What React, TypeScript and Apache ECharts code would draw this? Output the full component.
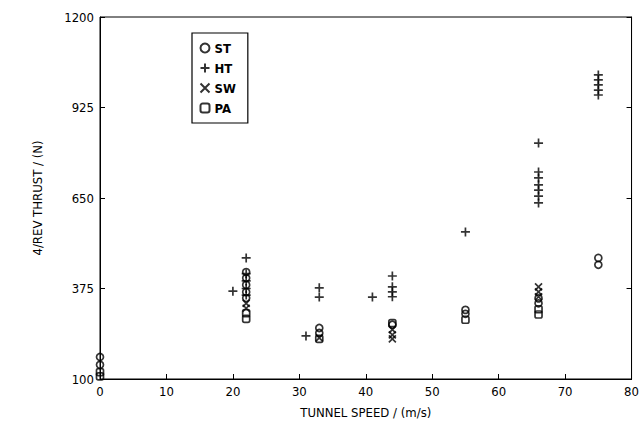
import React, { useEffect, useRef } from "react";
import * as echarts from "echarts";

const xTicks = [0, 10, 20, 30, 40, 50, 60, 70, 80];
const yTicks = [100, 375, 650, 925, 1200];

const stData: number[][] = [
  [0, 167], [0, 143], [22, 425], [22, 407], [22, 386], [22, 364], [22, 346],
  [33, 255], [33, 240], [44, 265], [55, 310], [55, 298], [66, 345], [66, 330],
  [75, 468], [75, 447],
];
const htData: number[][] = [
  [22, 468], [20, 367], [22, 420], [22, 398], [22, 375], [22, 355],
  [33, 377], [33, 349], [31, 231], [41, 349], [44, 413], [44, 380], [44, 365], [44, 350],
  [55, 547], [66, 817], [66, 729], [66, 711], [66, 690], [66, 674], [66, 656], [66, 635],
  [75, 1024], [75, 1009], [75, 994], [75, 978], [75, 963],
];
const swData: number[][] = [
  [22, 330], [22, 315], [33, 225], [44, 250], [44, 234], [44, 222],
  [66, 380], [66, 365], [66, 350],
];
const paData: number[][] = [
  [0, 121], [0, 108], [22, 300], [22, 283], [33, 222], [44, 270], [55, 280],
  [66, 312], [66, 296],
];

const FONT = "'DejaVu Sans Condensed', 'Liberation Sans Narrow', sans-serif";

export default function App() {
  const ref = useRef<HTMLDivElement>(null);
  useEffect(() => {
    if (!ref.current) return;
    const chart = echarts.init(ref.current, undefined, { renderer: "svg" });
    const plus = "path://M0,5L10,5M5,0L5,10";
    const cross = "path://M0,0L10,10M10,0L0,10";
    const mk = (name: string, data: number[][], symbol: string, size: number) => ({
      name,
      type: "scatter",
      data,
      symbol,
      symbolSize: size,
      itemStyle: { color: "none", borderColor: "#000", borderWidth: 1.7 },
    });
    chart.setOption({
      animation: false,
      backgroundColor: "#fff",
      grid: { left: 100, right: 10, top: 17, bottom: 52, show: true, borderColor: "#000", borderWidth: 1 },
      legend: {
        orient: "vertical",
        left: 192,
        top: 33,
        padding: [8, 12, 8, 6],
        itemGap: 6,
        itemWidth: 9,
        itemHeight: 9,
        borderColor: "#000",
        borderWidth: 1.2,
        textStyle: { fontFamily: FONT, fontSize: 13, fontWeight: "bold", color: "#000" },
        data: ["ST", "HT", "SW", "PA"],
      },
      xAxis: {
        type: "value",
        min: 0,
        max: 80,
        interval: 10,
        name: "TUNNEL SPEED / (m/s)",
        nameLocation: "middle",
        nameGap: 27,
        nameTextStyle: { fontFamily: FONT, fontSize: 13, color: "#000" },
        axisLine: { lineStyle: { color: "#000" } },
        axisTick: { inside: true, length: 5, lineStyle: { color: "#000" } },
        axisLabel: { fontFamily: FONT, fontSize: 13, color: "#000", margin: 6, customValues: xTicks },
        splitLine: { show: false },
      },
      yAxis: [
        {
          type: "value",
          min: 100,
          max: 1200,
          name: "4/REV THRUST / (N)",
          nameLocation: "middle",
          nameGap: 56,
          nameTextStyle: { fontFamily: FONT, fontSize: 13, color: "#000" },
          axisLine: { lineStyle: { color: "#000" } },
          axisTick: { inside: true, length: 5, customValues: yTicks, lineStyle: { color: "#000" } },
          axisLabel: {
            fontFamily: FONT, fontSize: 13, color: "#000", margin: 6, customValues: yTicks,
            formatter: (v: number) => String(v),
          },
          splitLine: { show: false },
        },
        {
          type: "value",
          min: 100,
          max: 1200,
          position: "right",
          axisLine: { show: true, lineStyle: { color: "#000" } },
          axisTick: { inside: true, length: 5, customValues: yTicks, lineStyle: { color: "#000" } },
          axisLabel: { show: false, customValues: yTicks },
          splitLine: { show: false },
        },
      ],
      series: [
        mk("ST", stData, "circle", 7),
        mk("HT", htData, plus, 9),
        mk("SW", swData, cross, 7),
        mk("PA", paData, "roundRect", 7),
      ],
    });
    return () => chart.dispose();
  }, []);
  return <div ref={ref} style={{ width: 642, height: 431, position: "absolute", left: 0, top: 0 }} />;
}
